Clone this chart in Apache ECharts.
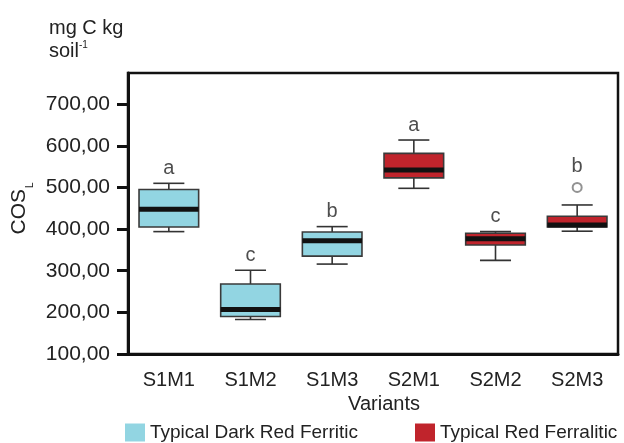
<!DOCTYPE html>
<html>
<head>
    <meta charset="utf-8"/>
    <title>COS_L by variant</title>
    <script src="https://cdn.jsdelivr.net/npm/echarts@6/dist/echarts.min.js"></script>
    <style>
        html, body { margin: 0; padding: 0; background: #fff; }
        #main { width: 624px; height: 443px; }
    </style>
</head>
<body>
<div id="main"></div>
<script type="text/javascript">
    // categories on the x axis
    var variants = ['S1M1', 'S1M2', 'S1M3', 'S2M1', 'S2M2', 'S2M3'];
    // [min, Q1, median, Q3, max]
    var ferriticCats = ['S1M1', 'S1M2', 'S1M3'];
    var ferriticStats = [
        [394, 405, 448, 495, 510],
        [183, 190, 207, 268, 301],
        [316, 335, 372, 393, 406]
    ];
    var ferraliticCats = ['S2M1', 'S2M2', 'S2M3'];
    var ferraliticStats = [
        [498, 523, 542, 582, 614],
        [325, 362, 377, 390, 394],
        [395, 405, 410, 431, 458]
    ];
    var outliers = [['S2M3', 500]];
    // letters from the mean comparison test
    var letters = ['a', 'c', 'b', 'a', 'c', 'b'];
    var yTicks = [100, 200, 300, 400, 500, 600, 700];

    var FONT = 'Liberation Sans, Arial, sans-serif';

    function toData(cats, stats) {
        return cats.map(function (c, i) {
            return [variants.indexOf(c)].concat(stats[i]);
        });
    }

    // top of each group (whisker or outlier), used to place the letters
    var tops = variants.map(function (c) {
        var i = ferriticCats.indexOf(c), top;
        if (i >= 0) top = ferriticStats[i][4];
        else top = ferraliticStats[ferraliticCats.indexOf(c)][4];
        var hasOut = false;
        outliers.forEach(function (o) {
            if (o[0] === c && o[1] > top) { top = o[1]; hasOut = true; }
        });
        return { value: [c, top], label: { distance: hasOut ? 11 : 5 } };
    });

    function renderBox(params, api) {
        var x = api.value(0);
        var lo = api.coord([x, api.value(1)]);
        var q1 = api.coord([x, api.value(2)]);
        var med = api.coord([x, api.value(3)]);
        var q3 = api.coord([x, api.value(4)]);
        var hi = api.coord([x, api.value(5)]);
        var band = api.size([1, 0])[0];
        var w = band * 0.73;
        var cap = band * 0.38;
        var cx = lo[0];
        var edge = { stroke: '#333', lineWidth: 1.6 };
        return {
            type: 'group',
            children: [
                { type: 'line', shape: { x1: cx, y1: hi[1], x2: cx, y2: q3[1] }, style: edge },
                { type: 'line', shape: { x1: cx, y1: lo[1], x2: cx, y2: q1[1] }, style: edge },
                { type: 'line', shape: { x1: cx - cap / 2, y1: hi[1], x2: cx + cap / 2, y2: hi[1] }, style: edge },
                { type: 'line', shape: { x1: cx - cap / 2, y1: lo[1], x2: cx + cap / 2, y2: lo[1] }, style: edge },
                {
                    type: 'rect',
                    shape: { x: cx - w / 2, y: q3[1], width: w, height: q1[1] - q3[1] },
                    style: { fill: api.visual('color'), stroke: '#3a3a3a', lineWidth: 1.6 }
                },
                { type: 'line', shape: { x1: cx - w / 2, y1: med[1], x2: cx + w / 2, y2: med[1] }, style: { stroke: '#111', lineWidth: 5 } }
            ]
        };
    }

    var myChart = echarts.init(document.getElementById('main'));
    var option = {
        animation: false,
        textStyle: { fontFamily: FONT },
        title: {
            text: '{a|mg C kg}\n{a|soil}{s|-1}',
            left: 44,
            top: 12,
            textStyle: {
                fontWeight: 'normal',
                rich: {
                    a: { fontFamily: FONT, fontSize: 20, fontWeight: 'normal', color: '#222', lineHeight: 23 },
                    s: { fontFamily: FONT, fontSize: 10, fontWeight: 'normal', color: '#222', verticalAlign: 'top', lineHeight: 23 }
                }
            }
        },
        legend: {
            left: 125,
            top: 423,
            width: 600,
            padding: 0,
            itemWidth: 20,
            itemHeight: 18,
            itemGap: 57,
            icon: 'rect',
            data: ['Typical Dark Red Ferritic', 'Typical Red Ferralitic'],
            textStyle: { fontFamily: FONT, fontSize: 19, color: '#222' }
        },
        grid: {
            left: 128,
            right: 6,
            top: 73,
            bottom: 89,
            outerBoundsMode: 'none',
            containLabel: false,
            show: true,
            borderColor: '#111',
            borderWidth: 2.5
        },
        xAxis: {
            type: 'category',
            data: variants,
            name: 'Variants',
            nameLocation: 'middle',
            nameGap: 40,
            nameTextStyle: { fontFamily: FONT, fontSize: 20, color: '#222', padding: [0, 0, 0, 22] },
            axisLine: { lineStyle: { color: '#111', width: 3 } },
            axisTick: { alignWithLabel: true, length: 8, lineStyle: { color: '#111', width: 3 } },
            axisLabel: { fontFamily: FONT, fontSize: 20, color: '#222', margin: 16 },
            splitLine: { show: false }
        },
        yAxis: {
            type: 'value',
            min: 100,
            max: 775,
            name: '{m|COS}{s|L}',
            nameLocation: 'middle',
            nameRotate: 90,
            nameGap: 92,
            nameTextStyle: {
                padding: [0, 0, 0, 10],
                rich: {
                    m: { fontFamily: FONT, fontSize: 21, color: '#222', lineHeight: 26, verticalAlign: 'top' },
                    s: { fontFamily: FONT, fontSize: 10, color: '#222', lineHeight: 10, padding: [21, 0, 0, 1], verticalAlign: 'bottom' }
                }
            },
            axisLine: { show: true, lineStyle: { color: '#111', width: 3 } },
            axisTick: { show: true, length: 11, customValues: yTicks, lineStyle: { color: '#111', width: 3 } },
            axisLabel: {
                fontFamily: FONT,
                fontSize: 21,
                color: '#222',
                margin: 18,
                customValues: yTicks,
                formatter: function (v) { return v.toFixed(2).replace('.', ','); }
            },
            splitLine: { show: false }
        },
        series: [
            {
                name: 'Typical Dark Red Ferritic',
                type: 'custom',
                itemStyle: { color: '#92d5e2' },
                renderItem: renderBox,
                encode: { x: 0, y: [1, 2, 3, 4, 5] },
                data: toData(ferriticCats, ferriticStats)
            },
            {
                name: 'Typical Red Ferralitic',
                type: 'custom',
                itemStyle: { color: '#c0242c' },
                renderItem: renderBox,
                encode: { x: 0, y: [1, 2, 3, 4, 5] },
                data: toData(ferraliticCats, ferraliticStats)
            },
            {
                name: 'outlier',
                type: 'scatter',
                symbol: 'emptyCircle',
                symbolSize: 9,
                itemStyle: { color: '#777', borderWidth: 1.5 },
                data: outliers
            },
            {
                name: 'letters',
                type: 'scatter',
                symbolSize: 0,
                silent: true,
                label: {
                    show: true,
                    position: 'top',
                    fontFamily: FONT,
                    fontSize: 20,
                    color: '#222',
                    formatter: function (p) { return letters[p.dataIndex]; }
                },
                data: tops
            }
        ]
    };
    myChart.setOption(option);
</script>
</body>
</html>
